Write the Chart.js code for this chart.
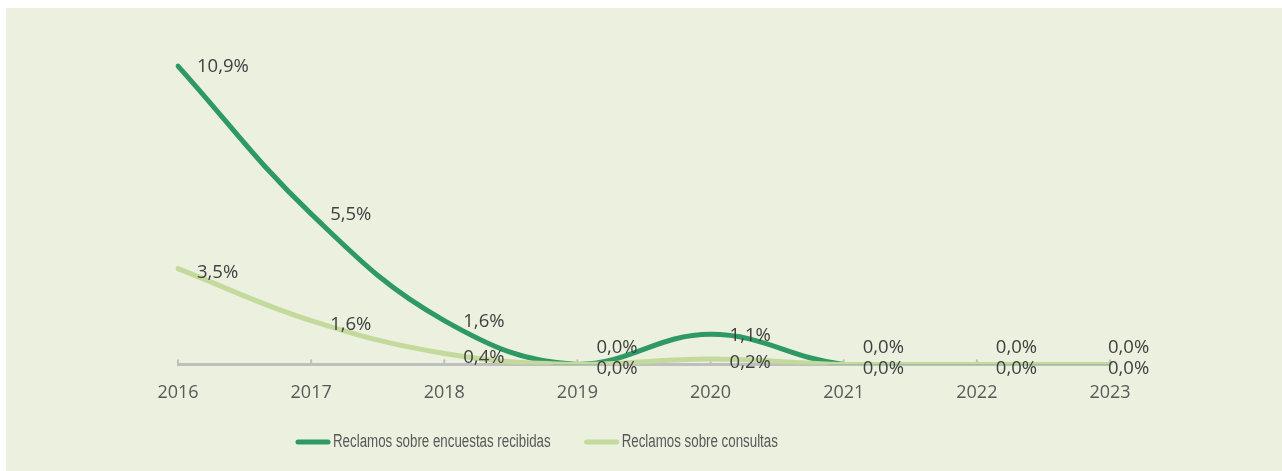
<!DOCTYPE html>
<html>
<head>
<meta charset="utf-8">
<script src="https://cdn.jsdelivr.net/npm/chart.js@4/dist/chart.umd.min.js"></script>
<style>
  body { margin: 0; background: #ffffff; }
  #wrap { position: absolute; left: 6px; top: 8px; width: 1276px; height: 463px; background: #EBF0DF; }
</style>
</head>
<body>
<div id="wrap"><canvas id="myChart" width="1276" height="463"></canvas></div>
<script>
const years = ["2016", "2017", "2018", "2019", "2020", "2021", "2022", "2023"];
const encuestas = [10.9, 5.5, 1.6, 0.0, 1.1, 0.0, 0.0, 0.0];
const consultas = [3.5, 1.6, 0.4, 0.0, 0.2, 0.0, 0.0, 0.0];
const seriesNames = ["Reclamos sobre encuestas recibidas", "Reclamos sobre consultas"];

const darkGreen = "#2E9964";
const lightGreen = "#C4DA9C";
const labelFont = "18.5px 'Open Sans'";

function fmt(v) {
  return v.toFixed(1).replace(".", ",") + "%";
}

// percent labels next to every point
const pointLabels = {
  id: "pointLabels",
  afterDatasetsDraw(chart) {
    const ctx = chart.ctx;
    ctx.save();
    ctx.font = labelFont;
    ctx.fillStyle = "#404040";
    ctx.textBaseline = "middle";
    ctx.textAlign = "left";
    chart.data.datasets.forEach((ds, di) => {
      const meta = chart.getDatasetMeta(di);
      const other = chart.data.datasets[1 - di].data;
      meta.data.forEach((pt, i) => {
        const v = ds.data[i];
        let x = pt.x + 19;
        let y = pt.y + 1;
        if (i === ds.data.length - 1) x = pt.x - 2;
        if (di === 1) y += 3;
        if (di === 0 && v === other[i]) y -= 18;
        ctx.fillText(fmt(v), x, y);
      });
    });
    ctx.restore();
  },
};

// small tick marks going up from the category axis
const axisTicks = {
  id: "axisTicks",
  beforeDatasetsDraw(chart) {
    const ctx = chart.ctx;
    const xs = chart.scales.x;
    const bottom = chart.chartArea.bottom;
    ctx.save();
    ctx.strokeStyle = "#BFBFBF";
    ctx.lineWidth = 2;
    xs.ticks.forEach((t, i) => {
      const x = xs.getPixelForTick(i);
      ctx.beginPath();
      ctx.moveTo(x, bottom);
      ctx.lineTo(x, bottom - 5);
      ctx.stroke();
    });
    ctx.restore();
  },
};

// legend drawn below the axis (narrow text like the original)
const bottomLegend = {
  id: "bottomLegend",
  afterDraw(chart) {
    const ctx = chart.ctx;
    const squeeze = 0.74;
    ctx.save();
    ctx.font = "18px 'Liberation Sans', sans-serif";
    ctx.textBaseline = "middle";
    ctx.lineCap = "round";
    let x = 292;
    const y = 434;
    chart.data.datasets.forEach((ds) => {
      ctx.strokeStyle = ds.borderColor;
      ctx.lineWidth = 5;
      ctx.beginPath();
      ctx.moveTo(x, y);
      ctx.lineTo(x + 30, y);
      ctx.stroke();
      const tx = x + 35;
      ctx.save();
      ctx.translate(tx, y);
      ctx.scale(squeeze, 1);
      ctx.fillStyle = "#595959";
      ctx.fillText(ds.label, 0, 0);
      ctx.restore();
      x = tx + ctx.measureText(ds.label).width * squeeze + 36;
    });
    ctx.restore();
  },
};

const ctx = document.getElementById("myChart");

new Chart(ctx, {
  type: "line",
  data: {
    labels: years,
    datasets: [
      {
        label: seriesNames[0],
        data: encuestas,
        borderColor: darkGreen,
        backgroundColor: darkGreen,
        borderWidth: 5,
        borderCapStyle: "round",
        tension: 0.4,
        pointRadius: 0,
        order: 1,
      },
      {
        label: seriesNames[1],
        data: consultas,
        borderColor: lightGreen,
        backgroundColor: lightGreen,
        borderWidth: 5,
        borderCapStyle: "round",
        tension: 0.4,
        pointRadius: 0,
        order: 0,
      },
    ],
  },
  options: {
    responsive: false,
    animation: false,
    layout: {
      padding: { left: 172, right: 172, top: 28, bottom: 49 },
    },
    plugins: {
      legend: { display: false },
      tooltip: { enabled: false },
    },
    scales: {
      x: {
        grid: { display: false, drawTicks: false },
        border: { display: true, color: "#BFBFBF", width: 3 },
        ticks: {
          color: "#595959",
          font: { family: "'Open Sans'", size: 18 },
          padding: 18,
          maxRotation: 0,
        },
      },
      y: {
        display: false,
        min: 0,
        max: 12,
      },
    },
  },
  plugins: [axisTicks, pointLabels, bottomLegend],
});
</script>
</body>
</html>
